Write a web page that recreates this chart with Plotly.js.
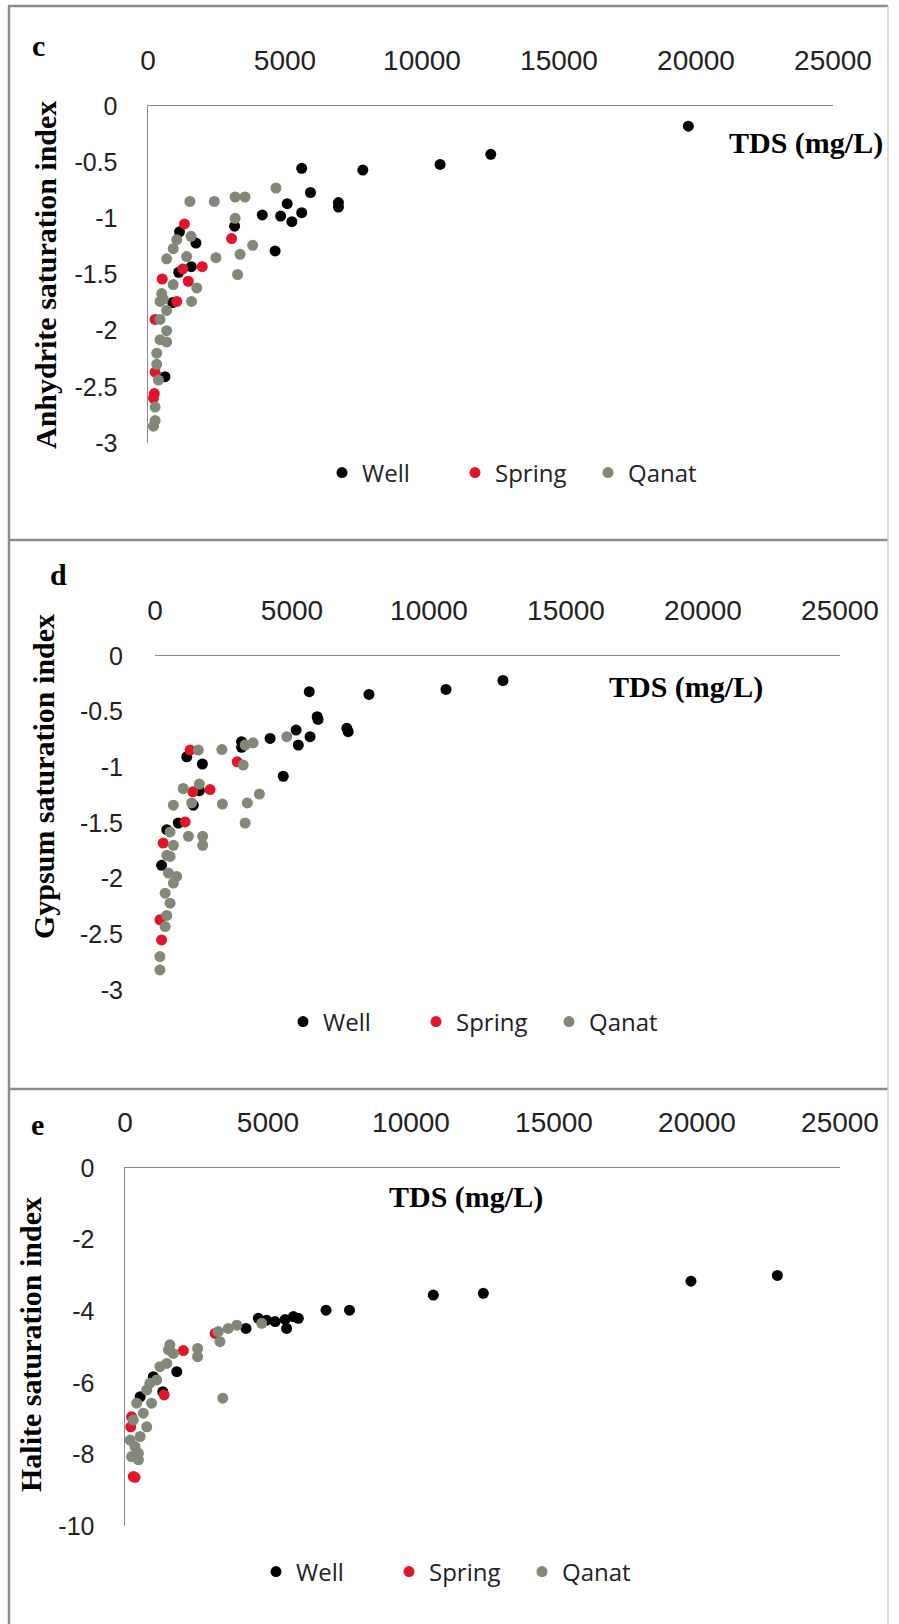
<!DOCTYPE html>
<html>
<head>
<meta charset="utf-8">
<script src="https://cdn.plot.ly/plotly-3.0.1.min.js"></script>
<style>html,body{margin:0;padding:0;background:#fff;}#chart{width:899px;height:1624px;}</style>
</head>
<body>
<div id="chart"></div>
<script>
// ---------- DATA ----------
const seriesNames = ["Well", "Spring", "Qanat"];
const tdsTicks = [0, 5000, 10000, 15000, 20000, 25000];
const anhTicks = [0, -0.5, -1, -1.5, -2, -2.5, -3];
const gypTicks = [0, -0.5, -1, -1.5, -2, -2.5, -3];
const halTicks = [0, -2, -4, -6, -8, -10];

// Panel c: Anhydrite saturation index vs TDS
const anhWellTDS = [19720, 12510, 10660, 7840, 5610, 5930, 5080, 6950, 6950, 4170, 4840, 5610, 5250, 4640, 3160, 1150, 1750, 1120, 1580, 900, 620];
const anhWellSI  = [-0.18, -0.43, -0.52, -0.57, -0.555, -0.77, -0.87, -0.86, -0.9, -0.97, -0.98, -0.95, -1.03, -1.29, -1.07, -1.12, -1.22, -1.48, -1.43, -1.75, -2.41];
const anhSpringTDS = [1330, 3050, 1270, 1980, 520, 1470, 1050, 260, 260, 200, 230];
const anhSpringSI  = [-1.05, -1.18, -1.45, -1.43, -1.54, -1.56, -1.74, -1.9, -2.37, -2.6, -2.56];
const anhQanatTDS = [1530, 2420, 3180, 3540, 4670, 3180, 1570, 1050, 920, 1410, 680, 2480, 3820, 3360, 3270, 1780, 920, 1590, 440, 680, 440, 680, 440, 680, 320, 320, 380, 260, 260, 200, 500, 560];
const anhQanatSI  = [-0.85, -0.85, -0.81, -0.81, -0.73, -1.0, -1.16, -1.19, -1.27, -1.34, -1.36, -1.35, -1.24, -1.32, -1.5, -1.62, -1.59, -1.74, -1.74, -1.82, -1.9, -2.0, -2.08, -2.1, -2.2, -2.3, -2.44, -2.68, -2.8, -2.85, -1.67, -1.72];

// Panel d: Gypsum saturation index vs TDS
const gypWellTDS = [5630, 7810, 10620, 12700, 5920, 5950, 7000, 7050, 5150, 5660, 5230, 4200, 3160, 3160, 4680, 1160, 1730, 1620, 1400, 850, 430, 240];
const gypWellSI  = [-0.32, -0.345, -0.3, -0.22, -0.545, -0.57, -0.65, -0.68, -0.665, -0.725, -0.8, -0.74, -0.77, -0.82, -1.08, -0.905, -0.97, -1.21, -1.34, -1.5, -1.56, -1.88];
const gypSpringTDS = [1280, 3000, 1380, 2010, 1100, 300, 180, 240];
const gypSpringSI  = [-0.845, -0.95, -1.22, -1.2, -1.49, -1.68, -2.37, -2.55];
const gypQanatTDS = [1580, 2440, 3290, 3580, 4810, 3220, 1620, 1030, 670, 1340, 2460, 3370, 3810, 3290, 1740, 1220, 1740, 550, 670, 430, 550, 490, 670, 370, 550, 430, 370, 180, 180, 790];
const gypQanatSI  = [-0.845, -0.84, -0.8, -0.78, -0.725, -0.98, -1.15, -1.19, -1.34, -1.32, -1.33, -1.32, -1.24, -1.5, -1.62, -1.62, -1.7, -1.58, -1.7, -1.79, -1.8, -1.95, -2.04, -2.13, -2.22, -2.33, -2.43, -2.7, -2.82, -1.98];

// Panel e: Halite saturation index vs TDS
const halWellTDS = [10780, 12530, 19790, 22810, 7030, 7850, 4660, 4950, 5250, 5600, 5890, 6060, 5650, 4230, 1810, 990, 1320, 530];
const halWellSI  = [-3.55, -3.5, -3.16, -3.0, -3.97, -3.97, -4.2, -4.25, -4.29, -4.23, -4.15, -4.2, -4.48, -4.48, -5.69, -5.83, -6.25, -6.39];
const halSpringTDS = [2040, 3150, 1370, 290, 350, 200, 230];
const halSpringSI  = [-5.1, -4.62, -6.34, -8.62, -8.64, -7.23, -6.95];
const halQanatTDS = [1570, 2540, 2540, 3260, 3320, 3610, 3910, 4780, 3420, 1690, 1460, 1110, 760, 930, 640, 760, 530, 350, 470, 230, 470, 180, 290, 410, 870, 1520, 1220];
const halQanatSI  = [-4.94, -5.04, -5.27, -4.57, -4.85, -4.48, -4.39, -4.34, -6.43, -5.18, -5.46, -5.92, -6.2, -6.57, -6.85, -7.23, -7.5, -7.78, -7.97, -8.06, -8.15, -7.6, -7.04, -6.57, -6.01, -5.08, -5.55];

// ---------- STYLE / LAYOUT ----------
const W = 899, H = 1624;
const px = v => v / W;
const py = v => 1 - v / H;
const colors = ["#000000", "#e5132a", "rgb(128,137,120)"];
const msize = 11;

function mk(x, y, i, xa, ya, leg) {
  return {
    type: "scatter", mode: "markers", x: x, y: y, name: seriesNames[i],
    xaxis: xa, yaxis: ya, legend: leg, cliponaxis: false,
    marker: {color: colors[i], size: msize, line: {width: 0}},
    hoverinfo: "skip"
  };
}

const data = [
  mk(anhWellTDS, anhWellSI, 0, "x", "y", "legend"),
  mk(anhSpringTDS, anhSpringSI, 1, "x", "y", "legend"),
  mk(anhQanatTDS, anhQanatSI, 2, "x", "y", "legend"),
  mk(gypWellTDS, gypWellSI, 0, "x2", "y2", "legend2"),
  mk(gypSpringTDS, gypSpringSI, 1, "x2", "y2", "legend2"),
  mk(gypQanatTDS, gypQanatSI, 2, "x2", "y2", "legend2"),
  mk(halWellTDS, halWellSI, 0, "x3", "y3", "legend3"),
  mk(halSpringTDS, halSpringSI, 1, "x3", "y3", "legend3"),
  mk(halQanatTDS, halQanatSI, 2, "x3", "y3", "legend3")
];

const tickFontX = {family: "Liberation Sans, Arial, sans-serif", size: 28, color: "#222"};
const tickFontY = {family: "Liberation Sans, Arial, sans-serif", size: 25, color: "#222"};
const lineCol = "#8a8a8a";

function xax(l, r, yref) {
  return {domain: [px(l), px(r)], range: [0, 25000], side: "top", anchor: yref,
    tickvals: tdsTicks, ticktext: tdsTicks.map(String), ticks: "", showgrid: false, zeroline: false,
    showline: true, linecolor: lineCol, linewidth: 1.5, tickfont: tickFontX, ticklabelstandoff: 23, fixedrange: true};
}
function yax(top, bot, ticks, xref, showline, standoff) {
  return {domain: [py(bot), py(top)], range: [ticks[ticks.length - 1], 0], anchor: xref,
    tickvals: ticks, ticktext: ticks.map(String), ticks: "", showgrid: false, zeroline: false,
    showline: showline, linecolor: lineCol, linewidth: 1.5, tickfont: tickFontY, ticklabelstandoff: standoff, fixedrange: true};
}

const serifBold = {family: "Liberation Serif, Times New Roman, serif", size: 30, color: "#000", weight: 700};
function ann(text, x, y, opts) {
  return Object.assign({text: text, xref: "paper", yref: "paper", x: px(x), y: py(y),
    showarrow: false, font: serifBold, xanchor: "center", yanchor: "middle"}, opts || {});
}

function leg(yc, xl) {
  return {orientation: "h", x: px(xl), y: py(yc), xanchor: "left", yanchor: "middle",
    font: {family: "Open Sans, sans-serif", size: 24, color: "#222"}, bgcolor: "rgba(0,0,0,0)",
    entrywidth: 88, entrywidthmode: "pixels", itemclick: false, itemdoubleclick: false};
}

const letterFont = Object.assign({}, serifBold, {size: 30});

const layout = {
  width: W, height: H, margin: {l: 0, r: 0, t: 0, b: 0}, autosize: false,
  paper_bgcolor: "#fff", plot_bgcolor: "rgba(0,0,0,0)", showlegend: true,
  xaxis: xax(148, 833, "y"), yaxis: yax(106, 443, anhTicks, "x", true, 24),
  xaxis2: xax(155, 840, "y2"), yaxis2: yax(656, 990, gypTicks, "x2", false, 31),
  xaxis3: xax(125, 840, "y3"), yaxis3: yax(1168, 1526, halTicks, "x3", true, 24),
  legend: leg(473, 322), legend2: leg(1022, 283), legend3: leg(1572, 256),
  annotations: [
    ann("c", 38, 45, {font: letterFont}),
    ann("d", 58, 574, {font: letterFont}),
    ann("e", 37, 1124, {font: letterFont}),
    ann("Anhydrite saturation index", 45, 275, {textangle: -90}),
    ann("Gypsum saturation index", 43, 777, {textangle: -90}),
    ann("Halite saturation index", 30, 1345, {textangle: -90}),
    ann("TDS (mg/L)", 727, 143, {xanchor: "left"}),
    ann("TDS (mg/L)", 607, 687, {xanchor: "left"}),
    ann("TDS (mg/L)", 387, 1197, {xanchor: "left"})
  ],
  shapes: [
    {type: "line", xref: "paper", yref: "paper", x0: px(8), x1: px(888), y0: py(6), y1: py(6), line: {color: "#8c8c8c", width: 2.5}},
    {type: "line", xref: "paper", yref: "paper", x0: px(8), x1: px(888), y0: py(540), y1: py(540), line: {color: "#8c8c8c", width: 2.5}},
    {type: "line", xref: "paper", yref: "paper", x0: px(8), x1: px(888), y0: py(1089), y1: py(1089), line: {color: "#8c8c8c", width: 2.5}},
    {type: "line", xref: "paper", yref: "paper", x0: px(9), x1: px(9), y0: py(6), y1: py(1624), line: {color: "#8c8c8c", width: 2.5}},
    {type: "line", xref: "paper", yref: "paper", x0: px(888), x1: px(888), y0: py(6), y1: py(1624), line: {color: "#d0d0d0", width: 1.5}}
  ]
};

Plotly.newPlot("chart", data, layout, {staticPlot: true, displayModeBar: false});
</script>
</body>
</html>
